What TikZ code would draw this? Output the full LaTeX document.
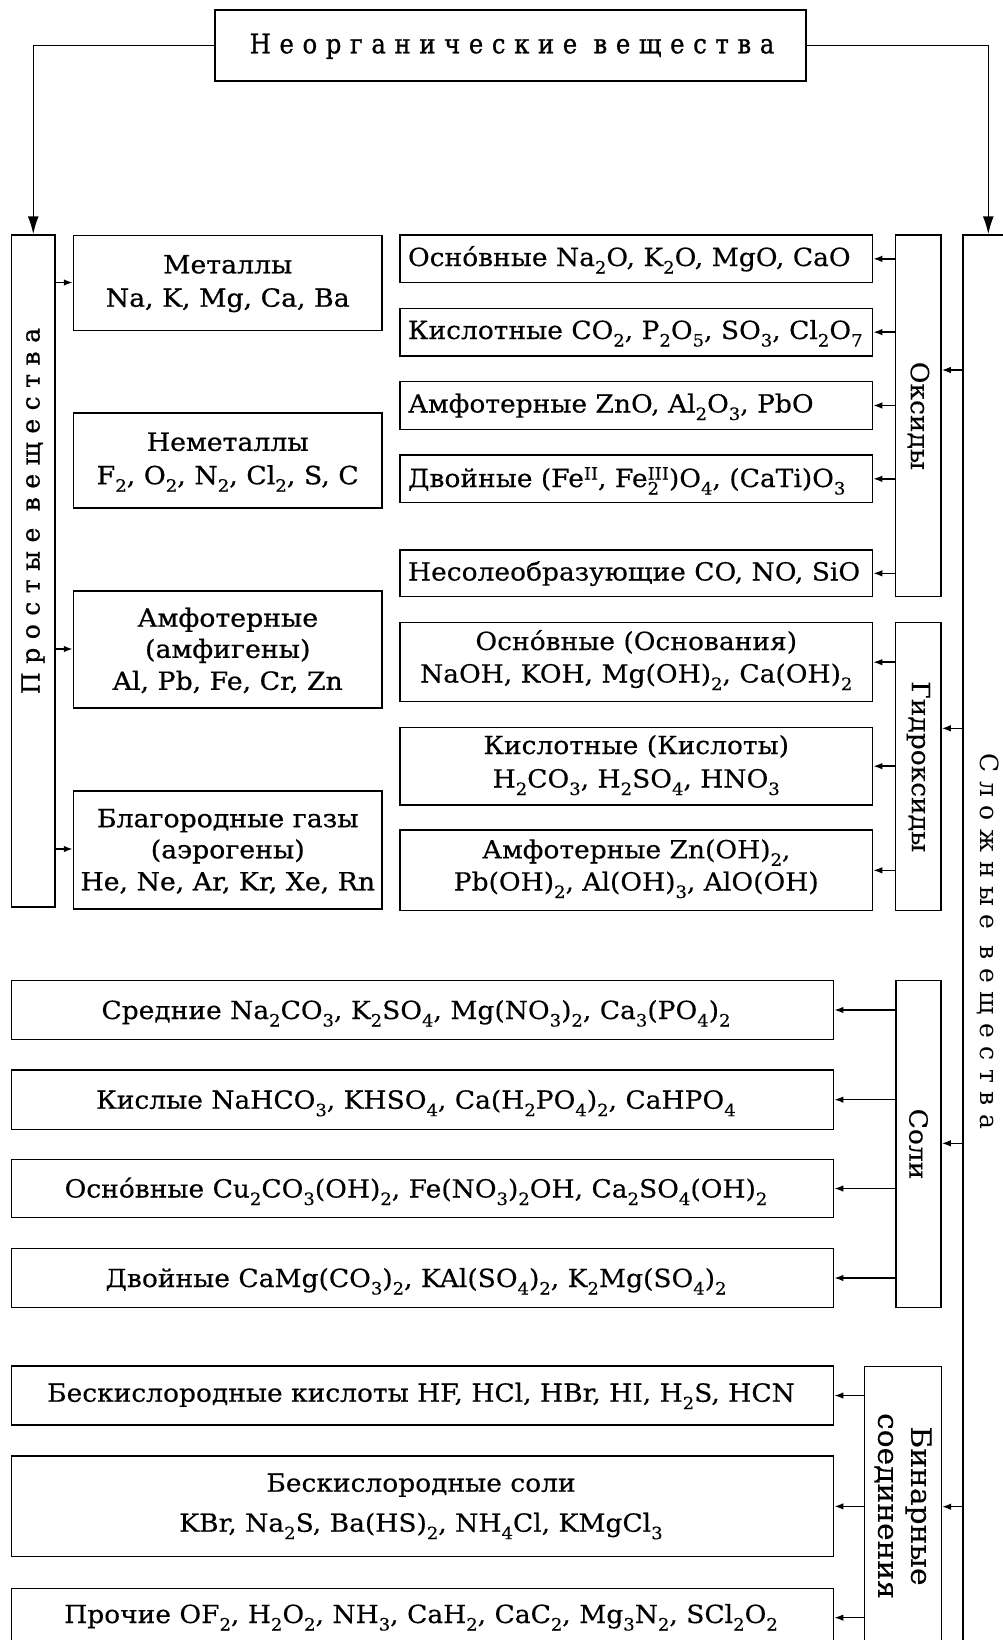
\documentclass[tikz,border=0pt]{standalone}
\usepackage{fontspec}
\usepackage{graphicx}
\setmainfont[FakeStretch=1.06,FakeBold=0.3]{DejaVu Serif}
\newfontfamily\leftfont[FakeStretch=1.07,FakeBold=0.7]{DejaVu Serif}
\newfontfamily\spacedfont[LetterSpace=34]{DejaVu Serif}
\newfontfamily\spacedbold[LetterSpace=34,FakeBold=0.8]{DejaVu Serif}
\newfontfamily\topfont[FakeStretch=0.9,LetterSpace=32,FakeBold=1]{DejaVu Serif}
\usetikzlibrary{arrows.meta,fit}
\newcommand\csub[1]{\raisebox{-0.3em}{\scalebox{0.68}{#1}}}
\newcommand\csup[1]{\raisebox{0.3em}{\scalebox{0.68}{#1}}}
\tikzset{
  box/.style={draw, line width=1.5pt, inner sep=0pt},
  arr/.style={line width=1.5pt, -{Latex[length=9pt,width=6.5pt]}},
  bigarr/.style={line width=1.5pt, -{Latex[length=18pt,width=11pt]}},
  txt/.style={inner sep=0pt, font=\fontsize{25}{30}\selectfont},
  ltxt/.style={inner sep=0pt, font=\leftfont\fontsize{25}{32}\selectfont},
  rtxt/.style={inner sep=0pt, font=\fontsize{25}{32}\selectfont, align=center},
  sptxt/.style={inner sep=0pt, font=\spacedfont\fontsize{25}{30}\selectfont},
}
\begin{document}
\begin{tikzpicture}[x=1pt,y=-1pt]
\useasboundingbox (0,0) rectangle (1003,1640);
\clip (0,0) rectangle (1003,1640);
\fill[white] (0,0) rectangle (1003,1640);

% top
\node[box, fit={(215,10) (806,81)}] (top) {};
\node[inner sep=0pt, font=\topfont\fontsize{27}{30}\selectfont, anchor=base] (topT) at (512,53.3) {Неорганические вещества};

% main bars
\node[box, fit={(11.5,235) (55,907)}] (prost) {};
\node[box, fit={(963,235) (1013.6,1700)}] (slozh) {};
\node[sptxt, font=\spacedbold\fontsize{25}{30}\selectfont, rotate=90] (prostT) at (33,511) {Простые вещества};
\node[sptxt, rotate=-90] (slozhT) at (988,941.5) {Сложные вещества};

\draw[bigarr] (top.west) -| (prost.north);
\draw[bigarr] (top.east) -| (slozh.north);

% simple substances
\node[box, fit={(73.5,235.5) (382,330.5)}] (met) {};
\node[box, fit={(73.5,413) (382,508)}] (nemet) {};
\node[box, fit={(73.5,591) (382,708)}] (amf) {};
\node[box, fit={(73.5,791) (382,909)}] (blag) {};
\node[ltxt, anchor=base] (metA) at (227.75,273.3) {Металлы};
\node[ltxt, anchor=base] (metB) at (227.75,306.7) {Na, K, Mg, Ca, Ba};
\node[ltxt, anchor=base] (nemetA) at (227.75,450.8) {Неметаллы};
\node[ltxt, anchor=base] (nemetB) at (227.75,484.2) {F\csub{2}, O\csub{2}, N\csub{2}, Cl\csub{2}, S, C};
\node[ltxt, anchor=base] (amfA) at (227.75,626.7) {Амфотерные};
\node[ltxt, anchor=base] (amfB) at (227.75,657.8) {(амфигены)};
\node[ltxt, anchor=base] (amfC) at (227.75,689.8) {Al, Pb, Fe, Cr, Zn};
\node[ltxt, anchor=base] (blagA) at (227.75,827.2) {Благородные газы};
\node[ltxt, anchor=base] (blagB) at (227.75,858.3) {(аэрогены)};
\node[ltxt, anchor=base] (blagC) at (227.75,890.3) {He, Ne, Ar, Kr, Xe, Rn};
\coordinate (pm) at (55,282.5);
\coordinate (pa) at (55,649);
\coordinate (pb) at (55,849);
\draw[arr] (pm) -- (pm -| met.west);
\draw[arr] (pa) -- (pa -| amf.west);
\draw[arr] (pb) -- (pb -| blag.west);

% oxides
\node[box, fit={(895.7,235) (941,596.7)}] (oks) {};
\node[rtxt, rotate=-90] (oksT) at (oks.center) {Оксиды};
\node[box, fit={(400,235) (872.5,282.7)}] (ox1) {};
\node[box, fit={(400,308.3) (872.5,356)}] (ox2) {};
\node[box, fit={(400,381.7) (872.5,429.3)}] (ox3) {};
\node[box, fit={(400,455) (872.5,502.7)}] (ox4) {};
\node[box, fit={(400,550) (872.5,596.7)}] (ox5) {};
\node[txt, anchor=base west] (ox1T) at (407.8,266) {Осно́вные Na\csub{2}O, K\csub{2}O, MgO, CaO};
\node[txt, anchor=base west] (ox2T) at (407.8,339) {Кислотные CO\csub{2}, P\csub{2}O\csub{5}, SO\csub{3}, Cl\csub{2}O\csub{7}};
\node[txt, anchor=base west] (ox3T) at (407.8,412.5) {Амфотерные ZnO, Al\csub{2}O\csub{3}, PbO};
\node[txt, anchor=base west] (ox4T) at (407.8,487) {Двойные (Fe\csup{II}, Fe\rlap{\csub{2}}\csup{III})O\csub{4}, (CaTi)O\csub{3}};
\node[txt, anchor=base west] (ox5T) at (407.8,580.5) {Несолеобразующие CO, NO, SiO};
\foreach \b in {ox1,ox2,ox3,ox4,ox5} \draw[arr] (oks.west |- \b.east) -- (\b.east);
\coordinate (mo) at (963,370);
\draw[arr] (mo) -- (mo -| oks.east);

% hydroxides
\node[box, fit={(895.7,622.7) (941,910.7)}] (gid) {};
\node[rtxt, rotate=-90] (gidT) at (gid.center) {Гидроксиды};
\node[box, fit={(400,622.7) (872.5,701.7)}] (h1) {};
\node[box, fit={(400,727.3) (872.5,805)}] (h2) {};
\node[box, fit={(400,830) (872.5,910.7)}] (h3) {};
\node[txt, anchor=base] (h1A) at (636.25,650) {Осно́вные (Основания)};
\node[txt, anchor=base] (h1B) at (636.25,682.5) {NaOH, KOH, Mg(OH)\csub{2}, Ca(OH)\csub{2}};
\node[txt, anchor=base] (h2A) at (636.25,754) {Кислотные (Кислоты)};
\node[txt, anchor=base] (h2B) at (636.25,787.5) {H\csub{2}CO\csub{3}, H\csub{2}SO\csub{4}, HNO\csub{3}};
\node[txt, anchor=base] (h3A) at (636.25,858.3) {Амфотерные Zn(OH)\csub{2},};
\node[txt, anchor=base] (h3B) at (636.25,890.5) {Pb(OH)\csub{2}, Al(OH)\csub{3}, AlO(OH)};
\foreach \b in {h1,h2,h3} \draw[arr] (gid.west |- \b.east) -- (\b.east);
\coordinate (mg) at (963,728.3);
\draw[arr] (mg) -- (mg -| gid.east);

% salts
\node[box, fit={(896,980.7) (941,1307.3)}] (sol) {};
\node[rtxt, rotate=-90] (solT) at (sol.center) {Соли};
\node[box, fit={(11.5,980.7) (833.6,1039.3)}] (s1) {};
\node[box, fit={(11.5,1070) (833.6,1129.3)}] (s2) {};
\node[box, fit={(11.5,1159.3) (833.6,1217.7)}] (s3) {};
\node[box, fit={(11.5,1248.7) (833.6,1307.3)}] (s4) {};
\node[txt, anchor=base] (s1T) at (416,1019) {Средние Na\csub{2}CO\csub{3}, K\csub{2}SO\csub{4}, Mg(NO\csub{3})\csub{2}, Ca\csub{3}(PO\csub{4})\csub{2}};
\node[txt, anchor=base] (s2T) at (416,1108.7) {Кислые NaHCO\csub{3}, KHSO\csub{4}, Ca(H\csub{2}PO\csub{4})\csub{2}, CaHPO\csub{4}};
\node[txt, anchor=base] (s3T) at (416,1197.5) {Осно́вные Cu\csub{2}CO\csub{3}(OH)\csub{2}, Fe(NO\csub{3})\csub{2}OH, Ca\csub{2}SO\csub{4}(OH)\csub{2}};
\node[txt, anchor=base] (s4T) at (416,1287) {Двойные CaMg(CO\csub{3})\csub{2}, KAl(SO\csub{4})\csub{2}, K\csub{2}Mg(SO\csub{4})\csub{2}};
\foreach \b in {s1,s2,s3,s4} \draw[arr] (sol.west |- \b.east) -- (\b.east);
\coordinate (ms) at (963,1143.3);
\draw[arr] (ms) -- (ms -| sol.east);

% binary
\node[box, fit={(864.7,1366.7) (941.3,1700)}] (bin) {};
\node[rtxt, font=\fontsize{28}{33}\selectfont, rotate=-90] (binT) at (903,1506) {Бинарные\\соединения};
\node[box, fit={(11.5,1366) (833.6,1425)}] (b1) {};
\node[box, fit={(11.5,1456) (833.6,1556.7)}] (b2) {};
\node[box, fit={(11.5,1588.3) (833.6,1647)}] (b3) {};
\node[txt, anchor=base] (b1T) at (421,1401.7) {Бескислородные кислоты HF, HCl, HBr, HI, H\csub{2}S, HCN};
\node[txt, anchor=base] (b2A) at (421,1491.7) {Бескислородные соли};
\node[txt, anchor=base] (b2B) at (421,1531.7) {KBr, Na\csub{2}S, Ba(HS)\csub{2}, NH\csub{4}Cl, KMgCl\csub{3}};
\node[txt, anchor=base] (b3T) at (421,1623) {Прочие OF\csub{2}, H\csub{2}O\csub{2}, NH\csub{3}, CaH\csub{2}, CaC\csub{2}, Mg\csub{3}N\csub{2}, SCl\csub{2}O\csub{2}};
\foreach \b in {b1,b2,b3} \draw[arr] (bin.west |- \b.east) -- (\b.east);
\coordinate (mb) at (963,1506.7);
\draw[arr] (mb) -- (mb -| bin.east);
\end{tikzpicture}
\end{document}
